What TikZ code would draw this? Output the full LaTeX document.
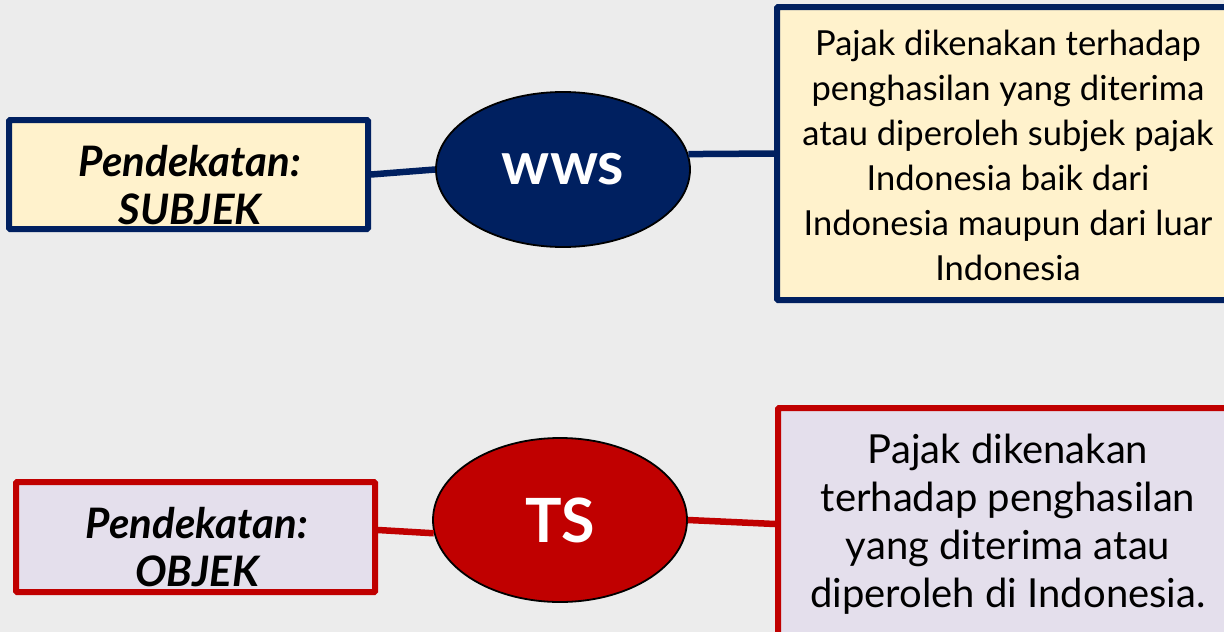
\documentclass[tikz,border=0pt]{standalone}
\usepackage{fontspec}
\setmainfont{Lato}
\usetikzlibrary{shapes.geometric}
\definecolor{navy}{HTML}{002060}
\definecolor{cream}{HTML}{FFF2CC}
\definecolor{darkred}{HTML}{C00000}
\definecolor{lavender}{HTML}{E4DFEC}
\definecolor{bggray}{HTML}{ECECEC}
\tikzset{
  x=1pt, y=-1pt,
  bluebox/.style={draw=navy, fill=cream, line width=6pt, rectangle, rounded corners=1pt, inner sep=0pt},
  redbox/.style={draw=darkred, fill=lavender, line width=6pt, rectangle, rounded corners=1pt, inner sep=0pt},
  oval/.style={ellipse, draw=black, line width=1.8pt, inner sep=0pt},
  bluelink/.style={draw=navy, line width=6.5pt},
  redlink/.style={draw=darkred, line width=6.5pt},
  headtext/.style={font=\fontsize{42}{48}\selectfont\bfseries\itshape, align=center, inner sep=0pt},
  bodytext/.style={align=center, inner sep=0pt},
}
\begin{document}
\begin{tikzpicture}
\useasboundingbox (0,0) rectangle (1224,632);
\clip (0,0) rectangle (1224,632);
\fill[bggray] (0,0) rectangle (1224,632);
% top row
\node[bluebox, minimum width=359pt, minimum height=109pt] (box1) at (188.5,174.5) {};
\node[headtext] (t1) at (190,185) {Pendekatan:\\SUBJEK};
\node[oval, fill=navy, minimum width=254pt, minimum height=155pt] (wws) at (563,169.5)
  {\fontsize{60}{60}\selectfont\bfseries\color{white}wws};
\node[bluebox, minimum width=463pt, minimum height=293pt] (box2) at (1008.5,153.5) {};
\node[bodytext, font=\fontsize{34.5}{45}\selectfont] (t2) at (1008,155)
  {Pajak dikenakan terhadap\\penghasilan yang diterima\\atau diperoleh subjek pajak\\Indonesia baik dari\\Indonesia maupun dari luar\\Indonesia};
\draw[bluelink] (box1.east) -- (wws.west);
\draw[bluelink] (wws.7) -- (box2.west);
% bottom row
\node[redbox, minimum width=359pt, minimum height=110pt] (box3) at (195.5,537) {};
\node[headtext] (t3) at (197,547) {Pendekatan:\\OBJEK};
\node[oval, fill=darkred, minimum width=254pt, minimum height=164pt] (ts) at (560,520)
  {\fontsize{61}{61}\selectfont\bfseries\color{white}TS};
\node[redbox, minimum width=462pt, minimum height=232pt] (box4) at (1009,524) {};
\node[bodytext, font=\fontsize{40}{48}\selectfont] (t4) at (1008,524.5)
  {Pajak dikenakan\\terhadap penghasilan\\yang diterima atau\\diperoleh di Indonesia.};
\draw[redlink] ([yshift=7pt]box3.east) -- (ts.186);
\draw[redlink] (ts.east) -- (box4.west);
\end{tikzpicture}
\end{document}
